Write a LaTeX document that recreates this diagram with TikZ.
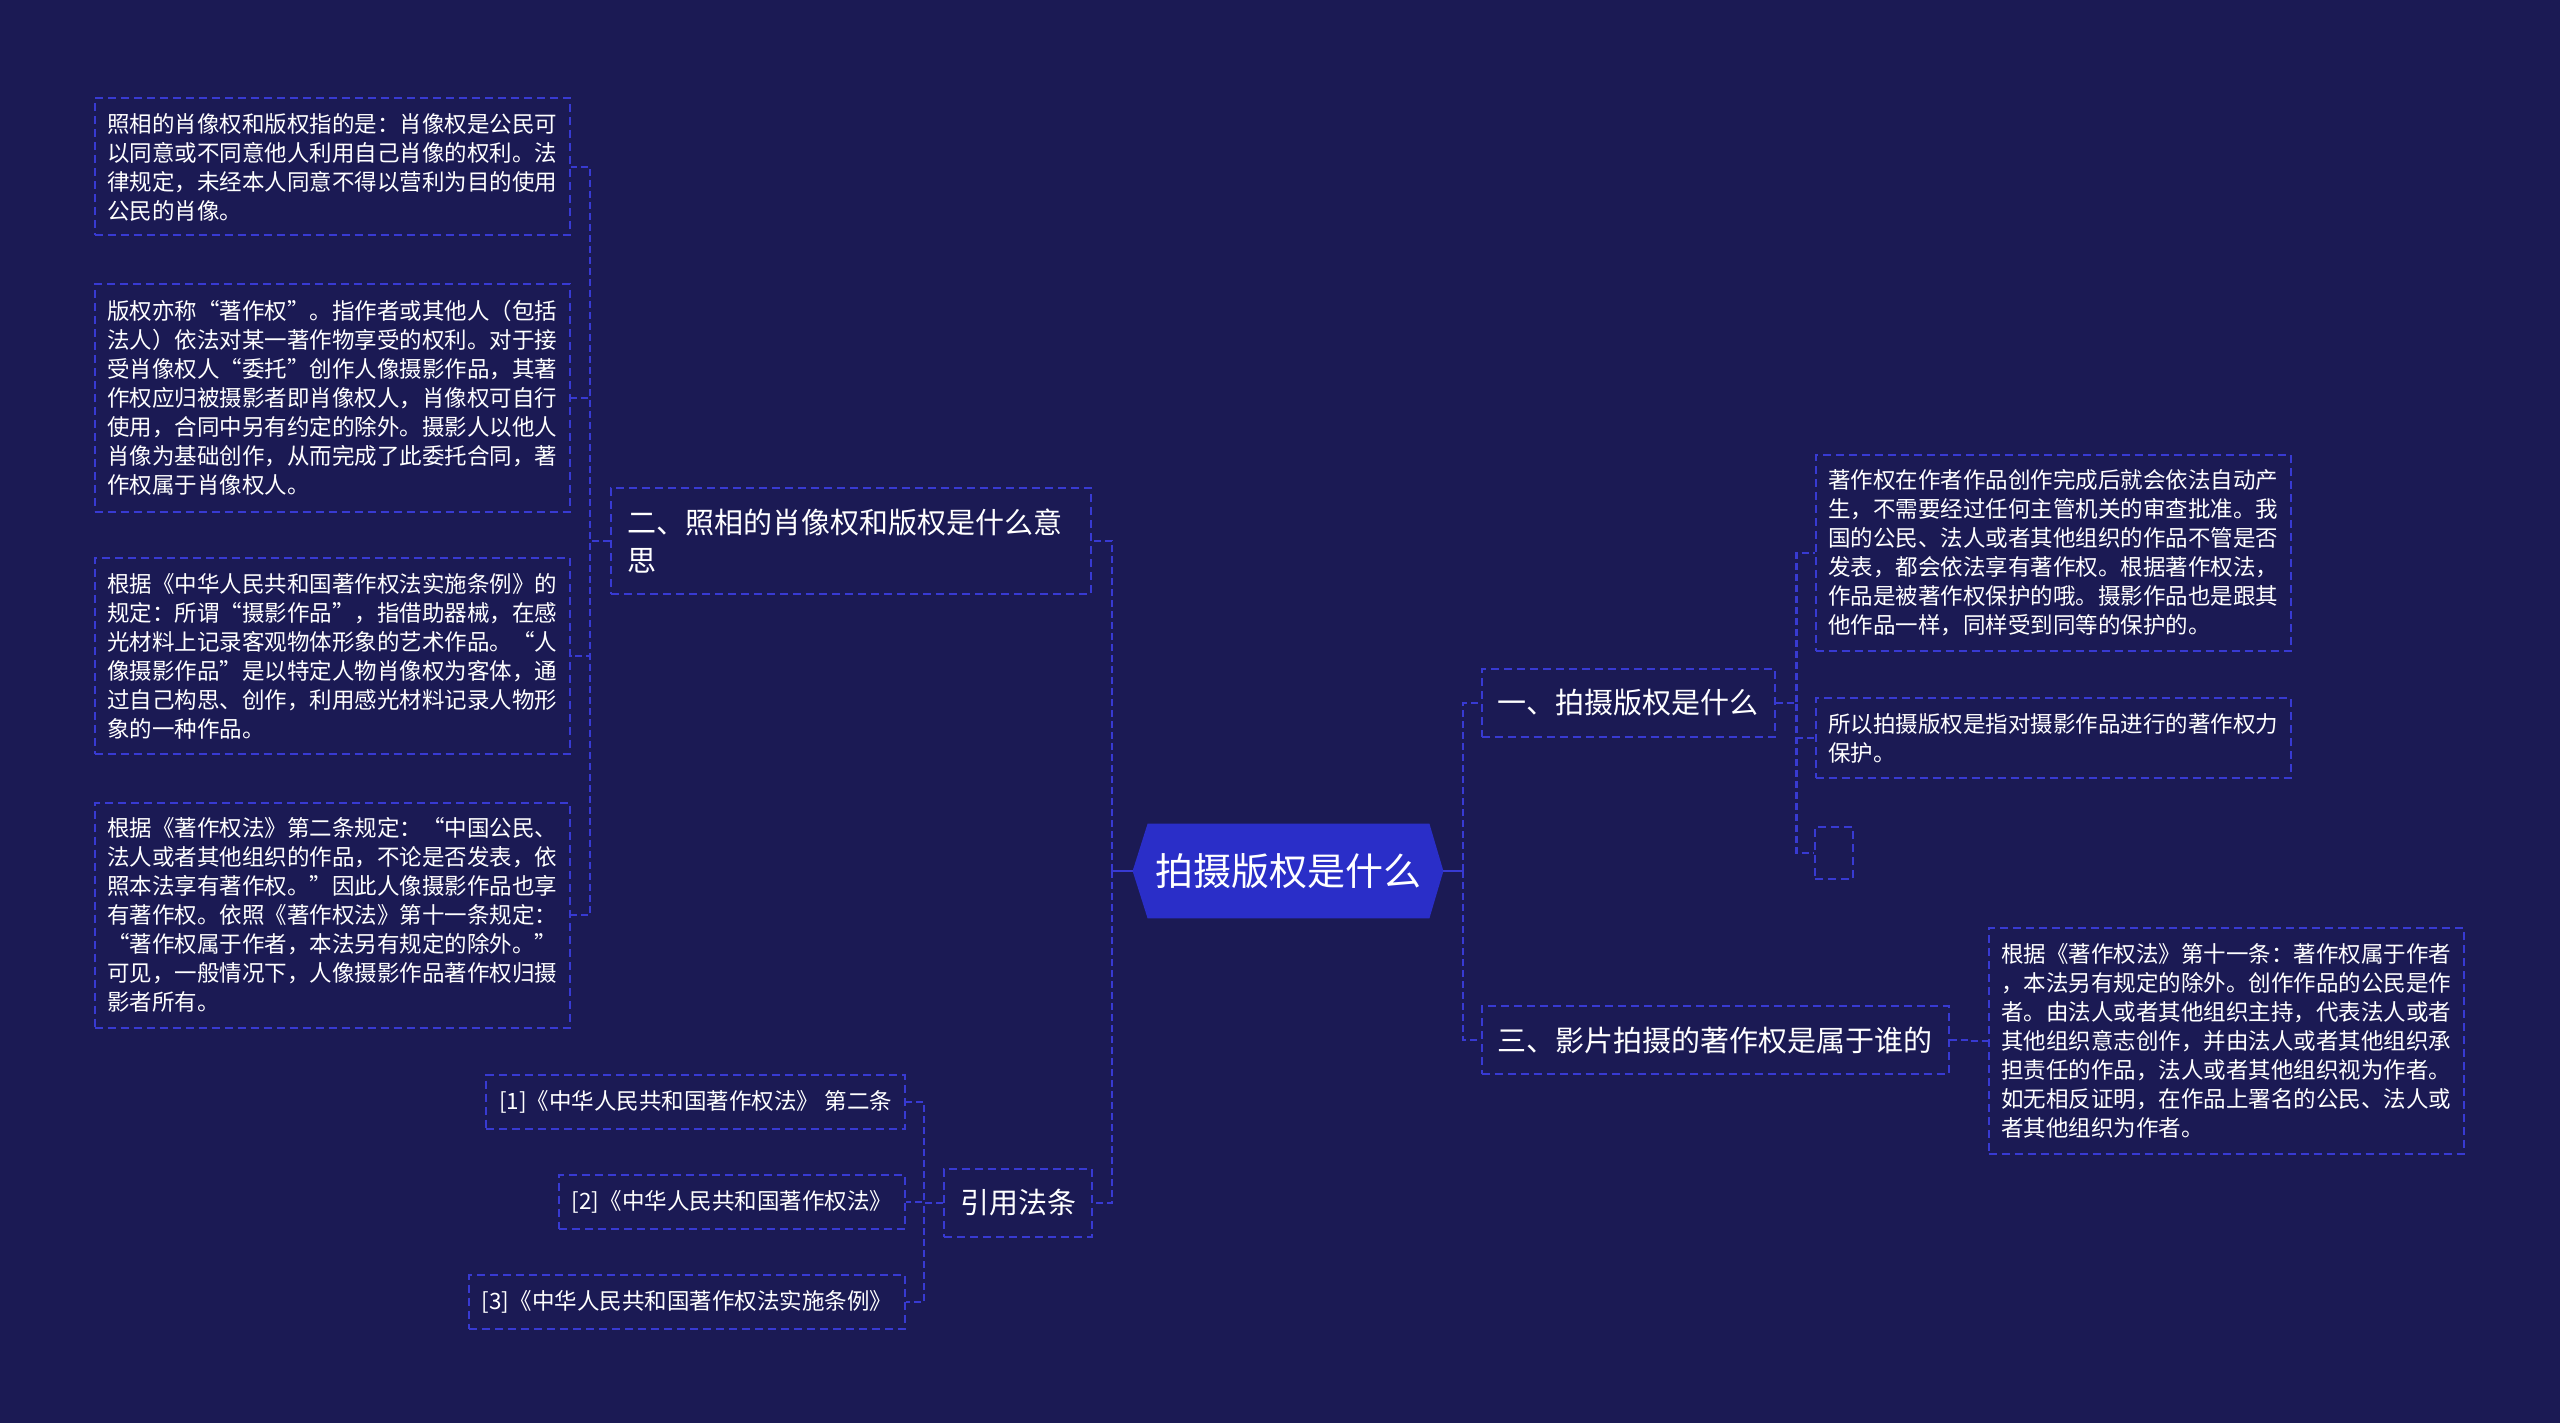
\documentclass[tikz,border=0pt]{standalone}
\usepackage{fontspec}
\setmainfont{Noto Sans CJK SC}
\definecolor{bgc}{RGB}{27,26,84}
\definecolor{dashc}{RGB}{56,58,210}
\definecolor{rootc}{RGB}{42,46,200}
\pgfdeclarelayer{bg}
\pgfsetlayers{bg,main}
\tikzset{
  box/.style={draw=dashc, dash pattern=on 4pt off 2.5pt, line width=1pt, text=white,
    align=left, inner xsep=6.25pt, inner ysep=6pt, text width=225pt,
    font=\fontsize{11.25}{14.5}\selectfont},
  refbox/.style={draw=dashc, dash pattern=on 4pt off 2.5pt, line width=1pt, text=white,
    inner xsep=6.5pt, minimum height=27pt, anchor=east,
    font=\fontsize{11.25}{14.5}\selectfont},
  titlebox/.style={draw=dashc, dash pattern=on 4pt off 2.5pt, line width=1pt, text=white,
    inner xsep=8pt, minimum height=34pt, font=\fontsize{14.5}{18.75}\selectfont},
  conn/.style={draw=dashc, dash pattern=on 3.5pt off 2pt, line width=1.4pt},
  rootstub/.style={draw=dashc, line width=0.8pt},
  rootnode/.style={text=white, minimum width=155pt, minimum height=47pt, inner sep=0pt,
    font=\fontsize{19}{22}\selectfont},
}
\begin{document}
\begin{tikzpicture}[x=0.5pt,y=-0.5pt]
\useasboundingbox (0,0) rectangle (2560,1423);
% root
\node[rootnode] (root) at (1288,871) {拍摄版权是什么};
\begin{pgfonlayer}{bg}
\fill[bgc] (0,0) rectangle (2560,1423);
\fill[rootc] (root.west) -- ([xshift=7.5pt]root.north west) -- ([xshift=-7pt]root.north east)
  -- (root.east) -- ([xshift=-7pt]root.south east) -- ([xshift=7.5pt]root.south west) -- cycle;
\end{pgfonlayer}
% right branch
\node[titlebox] (t1) at (1628,703) {一、拍摄版权是什么};
\node[titlebox] (t3) at (1715,1040) {三、影片拍摄的著作权是属于谁的};
\node[box, minimum height=98pt] (A) at (2053,553) {著作权在作者作品创作完成后就会依法自动产\\生，不需要经过任何主管机关的审查批准。我\\国的公民、法人或者其他组织的作品不管是否\\发表，都会依法享有著作权。根据著作权法，\\作品是被著作权保护的哦。摄影作品也是跟其\\他作品一样，同样受到同等的保护的。};
\node[box, minimum height=40pt] (B) at (2053,738) {所以拍摄版权是指对摄影作品进行的著作权力\\保护。};
\node[draw=dashc, dash pattern=on 4pt off 2.5pt, line width=1pt, minimum width=19pt, minimum height=26pt, inner sep=0pt] (C) at (1834,853) {};
\node[box, minimum height=113pt] (D) at (2226,1041) {根据《著作权法》第十一条：著作权属于作者\\，本法另有规定的除外。创作作品的公民是作\\者。由法人或者其他组织主持，代表法人或者\\其他组织意志创作，并由法人或者其他组织承\\担责任的作品，法人或者其他组织视为作者。\\如无相反证明，在作品上署名的公民、法人或\\者其他组织为作者。};
% left branch
\node[titlebox, text width=224pt, align=left, minimum height=53pt] (t2) at (851,541) {二、照相的肖像权和版权是什么意\\思};
\node[titlebox] (t4) at (1018,1203) {引用法条};
\node[box, minimum height=68.5pt] (L1) at (332,167) {照相的肖像权和版权指的是：肖像权是公民可\\以同意或不同意他人利用自己肖像的权利。法\\律规定，未经本人同意不得以营利为目的使用\\公民的肖像。};
\node[box, minimum height=113.5pt] (L2) at (332,398) {版权亦称“著作权”。指作者或其他人（包括\\法人）依法对某一著作物享受的权利。对于接\\受肖像权人“委托”创作人像摄影作品，其著\\作权应归被摄影者即肖像权人，肖像权可自行\\使用，合同中另有约定的除外。摄影人以他人\\肖像为基础创作，从而完成了此委托合同，著\\作权属于肖像权人。};
\node[box, minimum height=98pt] (L3) at (332,656) {根据《中华人民共和国著作权法实施条例》的\\规定：所谓“摄影作品”，指借助器械，在感\\光材料上记录客观物体形象的艺术作品。“人\\像摄影作品”是以特定人物肖像权为客体，通\\过自己构思、创作，利用感光材料记录人物形\\象的一种作品。};
\node[box, minimum height=112.5pt] (L4) at (332,915) {根据《著作权法》第二条规定：“中国公民、\\法人或者其他组织的作品，不论是否发表，依\\照本法享有著作权。”因此人像摄影作品也享\\有著作权。依照《著作权法》第十一条规定：\\“著作权属于作者，本法另有规定的除外。”\\可见，一般情况下，人像摄影作品著作权归摄\\影者所有。};
\node[refbox] (R1) at (906,1102) {[1]《中华人民共和国著作权法》 第二条};
\node[refbox] (R2) at (906,1202) {[2]《中华人民共和国著作权法》};
\node[refbox] (R3) at (906,1302) {[3]《中华人民共和国著作权法实施条例》};
% connectors
\coordinate (rb) at (1463,871);
\coordinate (lb) at (1112,871);
\draw[rootstub] (root.east) -- (rb);
\draw[conn] (rb) |- (t1.west);
\draw[conn] (rb) |- (t3.west);
\draw[rootstub] (root.west) -- (lb);
\draw[conn] (lb) |- (t2.east);
\draw[conn] (lb) |- (t4.east);
\draw[conn] (t1.east) -- ++(10.5pt,0) |- (A.west);
\draw[conn] (t1.east) -- ++(10.5pt,0) |- (B.west);
\draw[conn] (t1.east) -- ++(10.5pt,0) |- (C.west);
\draw[conn] (t3.east) -- ++(10pt,0) |- (D.west);
\draw[conn] (t2.west) -- ++(-10pt,0) |- (L1.east);
\draw[conn] (t2.west) -- ++(-10pt,0) |- (L2.east);
\draw[conn] (t2.west) -- ++(-10pt,0) |- (L3.east);
\draw[conn] (t2.west) -- ++(-10pt,0) |- (L4.east);
\draw[conn] (t4.west) -- ++(-9.5pt,0) |- (R1.east);
\draw[conn] (t4.west) -- ++(-9.5pt,0) |- (R2.east);
\draw[conn] (t4.west) -- ++(-9.5pt,0) |- (R3.east);
\end{tikzpicture}
\end{document}
